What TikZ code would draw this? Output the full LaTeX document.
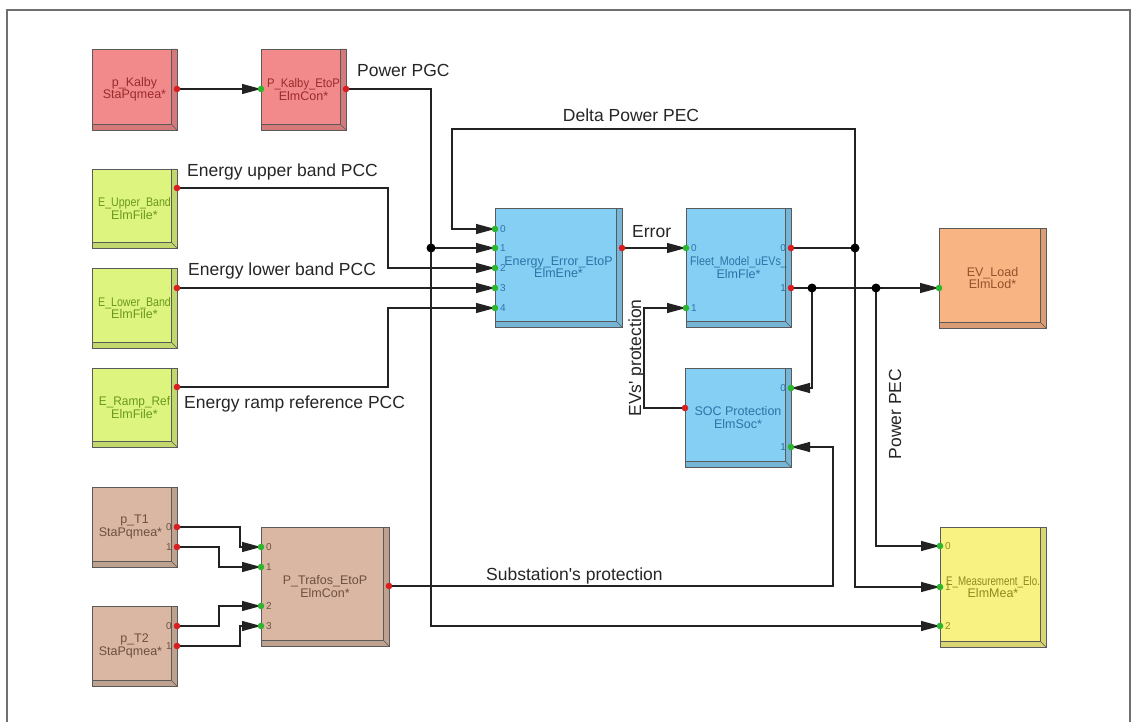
\documentclass[tikz,border=0pt]{standalone}
\usepackage{fontspec}
\setmainfont{Liberation Sans}[Ligatures=TeXOff]
\usetikzlibrary{arrows.meta}

\definecolor{pinkF}{HTML}{F28A8C}
\definecolor{pinkT}{HTML}{9B2B2B}
\definecolor{ygF}{HTML}{DDF47E}
\definecolor{ygT}{HTML}{6A9A1A}
\definecolor{blueF}{HTML}{85CFF4}
\definecolor{blueT}{HTML}{2B74A8}
\definecolor{oranF}{HTML}{F9B484}
\definecolor{oranT}{HTML}{95502A}
\definecolor{brownF}{HTML}{D9B7A3}
\definecolor{brownT}{HTML}{6E5040}
\definecolor{yellF}{HTML}{F8F283}
\definecolor{yellT}{HTML}{8E8A1E}
\definecolor{edgec}{HTML}{5A5A5A}
\definecolor{wirec}{HTML}{222222}
\definecolor{portR}{HTML}{D81E1E}
\definecolor{portG}{HTML}{2DB52D}
\definecolor{framec}{HTML}{707070}
\colorlet{bevelc}{gray}

\tikzset{
  blk/.style={draw=edgec, line width=0.9pt, inner sep=0pt, outer sep=0pt, align=center,
    font=\fontsize{12.5}{12.5}\selectfont,
    path picture={
      \fill[bevelc] ([xshift=-5.5pt]path picture bounding box.north east)
        -- (path picture bounding box.north east)
        -- (path picture bounding box.south east)
        -- (path picture bounding box.south west)
        -- ([yshift=5.5pt]path picture bounding box.south west)
        -- ([xshift=-5.5pt,yshift=5.5pt]path picture bounding box.south east) -- cycle;
      \draw[edgec, line width=0.6pt]
        ([xshift=-5.5pt]path picture bounding box.north east)
        -- ([xshift=-5.5pt,yshift=5.5pt]path picture bounding box.south east)
        -- ([yshift=5.5pt]path picture bounding box.south west)
        ([xshift=-5.5pt,yshift=5.5pt]path picture bounding box.south east)
        -- (path picture bounding box.south east);
    }},
  wire/.style={draw=wirec, line width=1.2pt},
  sig/.style={wire, -{Triangle[length=19pt,width=10pt]}},
  pin/.style={fill=portG},
  pout/.style={fill=portR},
  junc/.style={fill=black},
  plab/.style={font=\fontsize{10}{10}\selectfont, inner sep=1pt},
  lab/.style={font=\fontsize{17.5}{20}\selectfont, text=black!85, inner sep=0pt},
}

% block: name, x1, y1, x2, y2, fill, text colour, text
\newcommand\blockbox[8]{%
  \colorlet{bevelc}{#6!88!black}%
  \node[blk, fill=#6, text=#7, minimum width={(#4)-(#2)}, minimum height={(#5)-(#3)}]
    (#1) at ({((#2)+(#4))/2},{((#3)+(#5))/2}) {#8};}

\begin{document}
\begin{tikzpicture}[x=1pt,y=-1pt]
\useasboundingbox (0,0) rectangle (1131,722);
\fill[white] (0,0) rectangle (1131,722);
\draw[framec, line width=1.5pt] (7,722) -- (7,10) -- (1130,10) -- (1130,722);

% blocks
\blockbox{kal}{92}{49}{177}{130}{pinkF}{pinkT}{p\_Kalby\\StaPqmea*}
\blockbox{kep}{261}{49}{346}{130}{pinkF}{pinkT}{\scalebox{0.9}[1]{P\_Kalby\_EtoP}\\ElmCon*}
\blockbox{eub}{92}{169}{177}{248}{ygF}{ygT}{\scalebox{0.85}[1]{E\_Upper\_Band}\\ElmFile*}
\blockbox{elb}{92}{268}{177}{348}{ygF}{ygT}{\scalebox{0.85}[1]{E\_Lower\_Band}\\ElmFile*}
\blockbox{err}{92}{368}{177}{447}{ygF}{ygT}{\scalebox{0.95}[1]{E\_Ramp\_Ref}\\ElmFile*}
\blockbox{ee}{495}{208}{622}{327}{blueF}{blueT}{Energy\_Error\_EtoP\\ElmEne*}
\blockbox{fm}{686}{208}{791}{327}{blueF}{blueT}{\scalebox{0.86}[1]{Fleet\_Model\_uEVs\_}\\ElmFle*}
\blockbox{soc}{685}{368}{791}{467}{blueF}{blueT}{SOC Protection\\ElmSoc*}
\blockbox{evl}{939}{228}{1046}{328}{oranF}{oranT}{EV\_Load\\ElmLod*}
\blockbox{t1}{92}{487}{177}{567}{brownF}{brownT}{p\_T1\\StaPqmea*\hspace*{8pt}}
\blockbox{t2}{92}{606}{177}{686}{brownF}{brownT}{p\_T2\\StaPqmea*\hspace*{8pt}}
\blockbox{ptr}{261}{527}{389}{646}{brownF}{brownT}{P\_Trafos\_EtoP\\ElmCon*}
\blockbox{em}{940}{527}{1046}{647}{yellF}{yellT}{\scalebox{0.78}[1]{E\_Measurement\_Elo.}\\ElmMea*}

% port positions
\coordinate (kal-o) at (kal.east |- 0,89);
\coordinate (kep-i) at (kep.west |- 0,89);
\coordinate (kep-o) at (kep.east |- 0,89);
\coordinate (eub-o) at (eub.east |- 0,188);
\coordinate (elb-o) at (elb.east |- 0,288);
\coordinate (err-o) at (err.east |- 0,387);
\foreach \n/\y in {0/229,1/248,2/268,3/288,4/308}
  \coordinate (ee-i\n) at (ee.west |- 0,\y);
\coordinate (ee-o) at (ee.east |- 0,248);
\coordinate (fm-i0) at (fm.west |- 0,248);
\coordinate (fm-i1) at (fm.west |- 0,308);
\coordinate (fm-o0) at (fm.east |- 0,248);
\coordinate (fm-o1) at (fm.east |- 0,288);
\coordinate (soc-i0) at (soc.east |- 0,388);
\coordinate (soc-i1) at (soc.east |- 0,447);
\coordinate (soc-o) at (soc.west |- 0,408);
\coordinate (evl-i) at (evl.west |- 0,288);
\coordinate (t1-o0) at (t1.east |- 0,527);
\coordinate (t1-o1) at (t1.east |- 0,547);
\coordinate (t2-o0) at (t2.east |- 0,626);
\coordinate (t2-o1) at (t2.east |- 0,646);
\foreach \n/\y in {0/547,1/567,2/606,3/626}
  \coordinate (ptr-i\n) at (ptr.west |- 0,\y);
\coordinate (ptr-o) at (ptr.east |- 0,586);
\foreach \n/\y in {0/546,1/587,2/626}
  \coordinate (em-i\n) at (em.west |- 0,\y);

% junctions
\coordinate (jA) at (431,248);
\coordinate (jB) at (855,248);
\coordinate (jC) at (812,288);
\coordinate (jD) at (876,288);

% connections
\draw[sig] (kal-o) -- (kep-i);
\draw[wire] (kep-o) -| (jA);
\draw[sig] (jA) |- (em-i2);
\draw[sig] (jA) -- (ee-i1);
\draw[sig] (eub-o) -| (388,268) -- (ee-i2);
\draw[sig] (elb-o) -- (ee-i3);
\draw[sig] (err-o) -| (388,308) -- (ee-i4);
\draw[sig] (ee-o) -- (fm-i0);
\draw[wire] (fm-o0) -- (jB);
\draw[sig] (jB) -- (855,129) -| (452,229) -- (ee-i0);
\draw[sig] (jB) |- (em-i1);
\draw[sig] (fm-o1) -- (evl-i);
\draw[sig] (jC) |- (soc-i0);
\draw[sig] (jD) |- (em-i0);
\draw[sig] (soc-o) -| (644,308) -- (fm-i1);
\draw[sig] (ptr-o) -| (833,447) -- (soc-i1);
\draw[sig] (t1-o0) -| (240,547) -- (ptr-i0);
\draw[sig] (t1-o1) -| (219,567) -- (ptr-i1);
\draw[sig] (t2-o0) -| (219,606) -- (ptr-i2);
\draw[sig] (t2-o1) -| (240,626) -- (ptr-i3);

% port dots
\foreach \p in {kal-o,kep-o,eub-o,elb-o,err-o,ee-o,fm-o0,fm-o1,soc-o,t1-o0,t1-o1,t2-o0,t2-o1,ptr-o}
  \fill[pout] (\p) circle (3.3pt);
\foreach \p in {kep-i,ee-i0,ee-i1,ee-i2,ee-i3,ee-i4,fm-i0,fm-i1,soc-i0,soc-i1,evl-i,ptr-i0,ptr-i1,ptr-i2,ptr-i3,em-i0,em-i1,em-i2}
  \fill[pin] (\p) circle (3.3pt);
\foreach \p in {jA,jB,jC,jD}
  \fill[junc] (\p) circle (4.5pt);

% port numbers
\foreach \n in {0,...,4}
  \node[plab, text=blueT, anchor=west] (ee-l\n) at ([xshift=4pt]ee-i\n) {\n};
\foreach \n in {0,1} {
  \node[plab, text=blueT, anchor=west] (fm-li\n) at ([xshift=4pt]fm-i\n) {\n};
  \node[plab, text=blueT, anchor=east] (fm-lo\n) at ([xshift=-4pt]fm-o\n) {\n};
  \node[plab, text=blueT, anchor=east] (soc-l\n) at ([xshift=-4pt]soc-i\n) {\n};
  \node[plab, text=brownT, anchor=east] (t1-l\n) at ([xshift=-4pt]t1-o\n) {\n};
  \node[plab, text=brownT, anchor=east] (t2-l\n) at ([xshift=-4pt]t2-o\n) {\n};
}
\foreach \n in {0,...,3}
  \node[plab, text=brownT, anchor=west] (ptr-l\n) at ([xshift=4pt]ptr-i\n) {\n};
\foreach \n in {0,1,2}
  \node[plab, text=yellT, anchor=west] (em-l\n) at ([xshift=4pt]em-i\n) {\n};

% signal names
\node[lab, anchor=base west] (pgc) at (357,77) {Power PGC};
\node[lab, anchor=base] (dpec) at (631,122) {Delta Power PEC};
\node[lab, anchor=base west] (eubl) at (187,177) {Energy upper band PCC};
\node[lab, anchor=base west] (elbl) at (188,275) {Energy lower band PCC};
\node[lab, anchor=base west] (errl) at (184,408) {Energy ramp reference PCC};
\node[lab, anchor=base west] (errorl) at (632,237) {Error};
\node[lab, anchor=base west] (subl) at (486,580) {Substation's protection};
\node[lab, anchor=base, rotate=90] (evsl) at (641,358) {EVs' protection};
\node[lab, anchor=base, rotate=90] (ppecl) at (901,414) {Power PEC};
\end{tikzpicture}
\end{document}
